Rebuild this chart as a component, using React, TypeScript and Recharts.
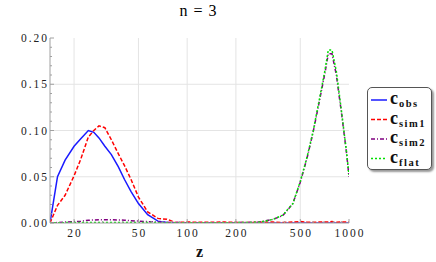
import React from "react";
import {
  LineChart,
  Line,
  XAxis,
  YAxis,
  CartesianGrid,
} from "recharts";

const zValues = [
  14.2, 15.8, 17.6, 20, 22, 24.5, 26.5, 28.5, 31, 34, 37.5, 41, 45, 50, 57, 66,
  75, 85, 100, 130, 170, 220, 280, 340, 390, 450, 500, 550, 600, 660, 710, 745,
  785, 835, 900, 965, 1000,
];
const cObs = [
  0, 0.05, 0.068, 0.083, 0.091, 0.1, 0.098, 0.092, 0.083, 0.074, 0.061, 0.047,
  0.034, 0.021, 0.009, 0.002, 0.0005, 0, 0, 0, 0, 0, 0, 0, 0, 0, 0, 0, 0, 0, 0,
  0, 0, 0, 0, 0, 0,
];
const cSim1 = [
  0, 0.019, 0.03, 0.051, 0.069, 0.093, 0.1, 0.105, 0.103, 0.09, 0.075, 0.062,
  0.047, 0.028, 0.012, 0.005, 0.004, 0.0005, 0.001, 0.0008, 0.001, 0.0005,
  0.0008, 0.001, 0.0005, 0.001, 0.0015, 0.001, 0.0008, 0.001, 0.0012, 0.001,
  0.0015, 0.0008, 0.001, 0.0012, 0.001,
];
const cSim2 = [
  0, 0.0005, 0.001, 0.0015, 0.002, 0.003, 0.0033, 0.0035, 0.0035, 0.0035,
  0.0033, 0.003, 0.0025, 0.002, 0.0015, 0.001, 0.0007, 0.0005, 0.0003, 0.0003,
  0.0003, 0.0005, 0.001, 0.004, 0.008, 0.021, 0.044, 0.07, 0.098, 0.134, 0.162,
  0.183, 0.183, 0.16, 0.118, 0.076, 0.05,
];
const cFlat = [
  0, 0.0003, 0.0004, 0.0005, 0.0005, 0.0006, 0.0006, 0.0006, 0.0006, 0.0006,
  0.0005, 0.0005, 0.0005, 0.0005, 0.0005, 0.0004, 0.0004, 0.0003, 0.0003,
  0.0003, 0.0003, 0.0005, 0.0008, 0.004, 0.0085, 0.021, 0.045, 0.071, 0.099,
  0.136, 0.165, 0.187, 0.187, 0.164, 0.12, 0.077, 0.052,
];

const xMajor = [20, 50, 100, 200, 500, 1000];
const xMinor = [30, 40, 60, 70, 80, 90, 300, 400, 600, 700, 800, 900];
const yMajor = [0, 0.05, 0.1, 0.15, 0.2];
const yMinor = [
  0.01, 0.02, 0.03, 0.04, 0.06, 0.07, 0.08, 0.09, 0.11, 0.12, 0.13, 0.14, 0.16,
  0.17, 0.18, 0.19,
];

const series = [
  { key: "obs", sub: "obs", values: cObs, color: "#1a1aff", dash: undefined },
  { key: "sim1", sub: "sim1", values: cSim1, color: "#ff0000", dash: "4 2" },
  { key: "sim2", sub: "sim2", values: cSim2, color: "#800080", dash: "4 2 1 2" },
  { key: "flat", sub: "flat", values: cFlat, color: "#00e000", dash: "2 2" },
];

const data = zValues.map((z, i) => {
  const row: Record<string, number> = { z };
  series.forEach((s) => (row[s.key] = s.values[i]));
  return row;
});

const FRAME = "#a0a0a0";
const FONT = "Liberation Serif, DejaVu Serif, serif";

const fmtY = (v: number) => v.toFixed(2);

const makeTick = (side: "bottom" | "top" | "left" | "right", majors: number[]) => (props: any) => {
  const { x, y, payload } = props;
  const major = majors.some((m) => Math.abs(m - payload.value) < 1e-9);
  const len = major ? 4 : 2;
  let line;
  if (side === "bottom") line = <line x1={x} y1={y} x2={x} y2={y - len} stroke={FRAME} />;
  else if (side === "top") line = <line x1={x} y1={y} x2={x} y2={y + len} stroke={FRAME} />;
  else if (side === "left") line = <line x1={x} y1={y} x2={x + len} y2={y} stroke={FRAME} />;
  else line = <line x1={x} y1={y} x2={x - len} y2={y} stroke={FRAME} />;
  let label = null;
  if (major && side === "bottom") {
    label = (
      <text x={x + 1} y={y + 14} textAnchor="middle" fontSize={11.5} fontFamily={FONT} letterSpacing={2} fill="#222">
        {payload.value}
      </text>
    );
  }
  if (major && side === "left") {
    label = (
      <text x={x - 1} y={y + 4} textAnchor="end" fontSize={11.5} fontFamily={FONT} letterSpacing={2} fill="#222">
        {fmtY(payload.value)}
      </text>
    );
  }
  return (
    <g>
      {line}
      {label}
    </g>
  );
};

// legend drawn as a small svg so the text boxes stay tight
const Legend = () => (
  <div
    style={{
      position: "absolute",
      left: 367,
      top: 87,
      width: 65,
      height: 83,
      border: "1px solid #555",
      borderRadius: 5,
      boxShadow: "2px 2px 2px #999",
      background: "#fff",
      boxSizing: "border-box",
    }}
  >
    <svg width={63} height={81} style={{ display: "block" }}>
      {series.map((s, i) => {
        const cy = 12 + i * 19.5;
        return (
          <g key={s.key}>
            <line x1={3} y1={cy} x2={19} y2={cy} stroke={s.color} strokeWidth={1.5} strokeDasharray={s.dash} />
            <text x={22} y={cy + 4} fontFamily={FONT} fontWeight="bold" fill="#111">
              <tspan fontSize={18}>c</tspan>
              <tspan fontSize={10.5} dy={3} dx={1} letterSpacing={1.5}>
                {s.sub}
              </tspan>
            </text>
          </g>
        );
      })}
    </svg>
  </div>
);

export default function App() {
  return (
    <div style={{ position: "absolute", left: 0, top: 0, width: 436, height: 262, background: "#fff" }}>
      <div
        style={{
          position: "absolute",
          left: 0,
          width: 397,
          top: 2,
          textAlign: "center",
          fontFamily: FONT,
          fontSize: 16,
          letterSpacing: 1,
        }}
      >
        n = 3
      </div>
      <LineChart
        width={436}
        height={262}
        data={data}
        margin={{ top: 38, right: 87, bottom: 0, left: 6 }}
      >
        <CartesianGrid
          stroke="#e4e4e4"
          verticalValues={[20, 50, 100, 200, 500]}
          horizontalValues={[0.05, 0.1, 0.15]}
        />
        <XAxis
          dataKey="z"
          type="number"
          scale="log"
          domain={[14.2, 1000]}
          allowDataOverflow
          ticks={[...xMajor, ...xMinor]}
          interval={0}
          tickSize={0}
          tickMargin={0}
          tickLine={false}
          axisLine={{ stroke: FRAME }}
          tick={makeTick("bottom", xMajor)}
          height={39}
          label={{ value: "z", position: "insideBottom", offset: 5, fontFamily: FONT, fontWeight: "bold", fontSize: 16, fill: "#111" }}
        />
        <XAxis
          xAxisId="top"
          dataKey="z"
          orientation="top"
          type="number"
          scale="log"
          domain={[14.2, 1000]}
          allowDataOverflow
          ticks={[...xMajor, ...xMinor]}
          interval={0}
          tickSize={0}
          tickMargin={0}
          tickLine={false}
          axisLine={{ stroke: FRAME }}
          tick={makeTick("top", xMajor)}
          height={0}
        />
        <YAxis
          type="number"
          domain={[0, 0.2]}
          allowDataOverflow
          ticks={[...yMajor, ...yMinor]}
          interval={0}
          tickSize={0}
          tickMargin={0}
          tickLine={false}
          axisLine={{ stroke: FRAME }}
          tick={makeTick("left", yMajor)}
          width={44}
        />
        <YAxis
          yAxisId="right"
          orientation="right"
          type="number"
          domain={[0, 0.2]}
          allowDataOverflow
          ticks={[...yMajor, ...yMinor]}
          interval={0}
          tickSize={0}
          tickMargin={0}
          tickLine={false}
          axisLine={{ stroke: FRAME }}
          tick={makeTick("right", yMajor)}
          width={0}
        />
        {series.map((s) => (
          <Line
            key={s.key}
            dataKey={s.key}
            type="linear"
            stroke={s.color}
            strokeWidth={1.5}
            strokeDasharray={s.dash}
            dot={false}
            isAnimationActive={false}
          />
        ))}
      </LineChart>
      <Legend />
    </div>
  );
}
